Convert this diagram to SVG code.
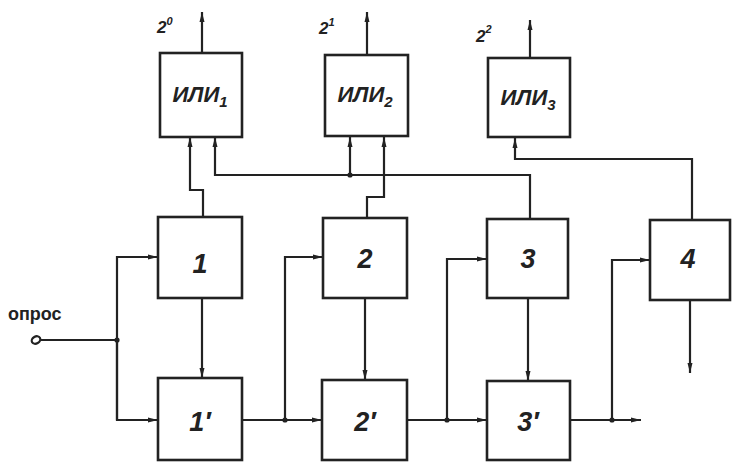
<svg xmlns="http://www.w3.org/2000/svg" width="732" height="462" viewBox="0 0 732 462">
<style>
.box{fill:#fff;stroke:#222;stroke-width:2.6}
.ln{fill:none;stroke:#222;stroke-width:2.2}
.ar{marker-end:url(#ah)}
.lbl{font-family:"Liberation Sans",Arial,sans-serif;font-style:italic;font-weight:bold;fill:#222}
.up{font-style:normal;font-size:18px}
.num{font-size:27px;text-anchor:middle}
.ili{font-size:22px;text-anchor:middle}
.pw{font-size:17px}
.dot{fill:#222}
</style>
<defs>
<marker id="ah" markerUnits="userSpaceOnUse" markerWidth="12" markerHeight="8" refX="10" refY="3" orient="auto">
<path d="M0,0.5 L10,3 L0,5.5 z" fill="#222"/>
</marker>
</defs>
<rect width="732" height="462" fill="#fff"/>
<g id="connectors">
<line class="ln ar" x1="202" y1="53" x2="202" y2="12"/>
<line class="ln ar" x1="367" y1="55" x2="367" y2="12"/>
<line class="ln ar" x1="530" y1="58" x2="530" y2="20"/>
<polyline class="ln ar" points="203,217 203,190 190,190 190,137"/>
<polyline class="ln ar" points="530,219 530,175 215,175 215,137"/>
<line class="ln ar" x1="350" y1="175" x2="350" y2="137"/>
<polyline class="ln ar" points="367,218 367,197 384,197 384,137"/>
<polyline class="ln ar" points="692,220 692,159 515,159 515,138"/>
<line class="ln" x1="37" y1="340" x2="117" y2="340"/>
<polyline class="ln ar" points="117,420 117,257 158,257"/>
<polyline class="ln ar" points="117,340 117,420 158,420"/>
<line class="ln ar" x1="202" y1="298" x2="202" y2="378"/>
<line class="ln ar" x1="242" y1="420" x2="322" y2="420"/>
<polyline class="ln ar" points="285,420 285,257 323,257"/>
<line class="ln ar" x1="365" y1="298" x2="365" y2="380"/>
<line class="ln ar" x1="407" y1="420" x2="487" y2="420"/>
<polyline class="ln ar" points="447,420 447,259 487,259"/>
<line class="ln ar" x1="528" y1="298" x2="528" y2="381"/>
<line class="ln ar" x1="570" y1="420" x2="641" y2="420"/>
<polyline class="ln ar" points="612,420 612,260 650,260"/>
<line class="ln ar" x1="690" y1="300" x2="690" y2="373"/>
<circle class="dot" cx="117" cy="340" r="2.6"/>
<circle class="dot" cx="285" cy="420" r="2.6"/>
<circle class="dot" cx="447" cy="420" r="2.6"/>
<circle class="dot" cx="612" cy="420" r="2.6"/>
<circle class="dot" cx="350" cy="175" r="2.6"/>
<ellipse cx="36" cy="340" rx="4.5" ry="3.5" fill="#fff" stroke="#222" stroke-width="2.2" transform="rotate(-30 36 340)"/>
</g>
<g id="or1">
<rect class="box" x="160" y="53" width="82" height="84"/>
<text class="lbl ili" x="200" y="102">ИЛИ<tspan font-size="15" dy="5">1</tspan></text>
<text class="lbl pw" x="157" y="33">2<tspan font-size="11" dy="-8">0</tspan></text>
</g>
<g id="or2">
<rect class="box" x="325" y="55" width="83" height="81"/>
<text class="lbl ili" x="365" y="102">ИЛИ<tspan font-size="15" dy="5">2</tspan></text>
<text class="lbl pw" x="319" y="34">2<tspan font-size="11" dy="-8">1</tspan></text>
</g>
<g id="or3">
<rect class="box" x="488" y="58" width="82" height="79"/>
<text class="lbl ili" x="528" y="105">ИЛИ<tspan font-size="15" dy="5">3</tspan></text>
<text class="lbl pw" x="476" y="42">2<tspan font-size="11" dy="-9">2</tspan></text>
</g>
<g id="opros">
<text class="lbl up" x="8" y="320">опрос</text>
</g>
<g id="b1">
<rect class="box" x="158" y="217" width="84" height="81"/>
<text class="lbl num" x="200" y="273">1</text>
</g>
<g id="b1p">
<rect class="box" x="158" y="378" width="84" height="82"/>
<text class="lbl num" x="200" y="431">1′</text>
</g>
<g id="b2">
<rect class="box" x="323" y="218" width="84" height="80"/>
<text class="lbl num" x="365" y="268">2</text>
</g>
<g id="b2p">
<rect class="box" x="322" y="380" width="85" height="80"/>
<text class="lbl num" x="365" y="431">2′</text>
</g>
<g id="b3">
<rect class="box" x="487" y="219" width="81" height="79"/>
<text class="lbl num" x="528" y="268">3</text>
</g>
<g id="b3p">
<rect class="box" x="487" y="381" width="83" height="79"/>
<text class="lbl num" x="528" y="431">3′</text>
</g>
<g id="b4">
<rect class="box" x="650" y="220" width="80" height="80"/>
<text class="lbl num" x="688" y="268">4</text>
</g>
</svg>
